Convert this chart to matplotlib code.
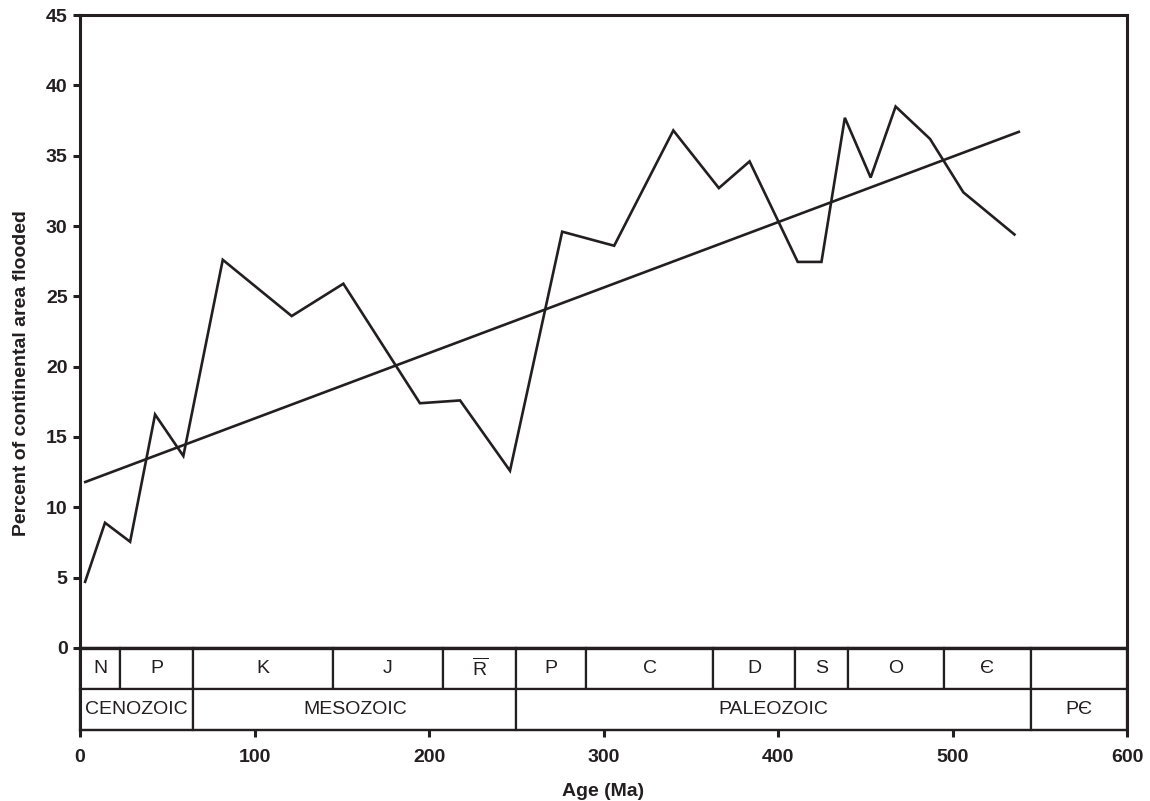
import matplotlib
matplotlib.use('Agg')
import matplotlib.pyplot as plt
import numpy as np

plt.rcParams['font.family'] = ['Liberation Sans', 'DejaVu Sans']
plt.rcParams['mathtext.fontset'] = 'custom'
plt.rcParams['mathtext.rm'] = 'Liberation Sans'

# curva de inundacion continental
age_ma = [2.9, 14.3, 28.7, 43, 59.2, 81.8, 121.3, 150.9, 194.8, 217.8, 246.4,
          276.3, 306.1, 340, 366.1, 383.7, 411.3, 424.9, 438.3, 453.1, 467.4,
          487.1, 506.2, 535.5]
pct_flooded = [4.7, 8.9, 7.55, 16.6, 13.65, 27.6, 23.6, 25.9, 17.4, 17.6, 12.6,
               29.6, 28.6, 36.8, 32.7, 34.6, 27.45, 27.45, 37.7, 33.45, 38.5,
               36.2, 32.4, 29.4]

# linea de tendencia (extremos leidos)
trend_age = [3, 538]
trend_pct = [11.8, 36.7]

# escala geologica
periods = ['N', 'P', 'K', 'J', r'$\overline{\mathrm{R}}$', 'P', 'C', 'D', 'S',
           'O', 'Є', '']
period_bounds = [0, 23, 65, 145, 208, 250, 290, 363, 410, 440, 495, 545, 600]
eras = ['CENOZOIC', 'MESOZOIC', 'PALEOZOIC', 'PЄ']
era_bounds = [0, 65, 250, 545, 600]

x_ticks = [0, 100, 200, 300, 400, 500, 600]
y_ticks = [0, 5, 10, 15, 20, 25, 30, 35, 40, 45]

ROW = 2.92
BOX_LW = 1.6
INK = '#231f20'

fig = plt.figure(figsize=(11.5, 8.01), dpi=100)
ax = fig.add_axes([0.0696, 0.0886, 0.9104, 0.8925])

ax.plot(age_ma, pct_flooded, color=INK, lw=1.9, solid_joinstyle='miter')
ax.plot(trend_age, trend_pct, color=INK, lw=1.9)

# cajas de periodos (fila superior)
p_left = np.array(period_bounds[:-1])
p_width = np.diff(period_bounds)
ax.bar(p_left, -ROW, width=p_width, bottom=0, align='edge',
       color='white', edgecolor=INK, linewidth=BOX_LW, clip_on=False)
# cajas de eras (fila inferior)
e_left = np.array(era_bounds[:-1])
e_width = np.diff(era_bounds)
ax.bar(e_left, -ROW, width=e_width, bottom=-ROW, align='edge',
       color='white', edgecolor=INK, linewidth=BOX_LW, clip_on=False)

for lab, l, w in zip(periods, p_left, p_width):
    ax.text(l + w / 2, -ROW / 2, lab, ha='center', va='center', fontsize=14,
            color=INK)

for lab, l, w in zip(eras, e_left, e_width):
    ax.text(l + w / 2, -1.5 * ROW, lab, ha='center', va='center', fontsize=14,
            color=INK)

ax.axhline(0, color=INK, lw=2.4)

ax.set_xlim(0, 600)
ax.set_ylim(-2 * ROW, 45)
ax.set_xticks(x_ticks)
ax.set_yticks(y_ticks)
ax.tick_params(axis='both', direction='out', length=5, width=2.2,
               color=INK, labelsize=14, labelcolor=INK)
ax.tick_params(axis='x', pad=9)
ax.tick_params(axis='y', pad=4)
for t in ax.get_xticklabels() + ax.get_yticklabels():
    t.set_fontweight('bold')

for s in ax.spines.values():
    s.set_color(INK)
    s.set_linewidth(2.2)
ax.spines['bottom'].set_linewidth(BOX_LW)

ax.set_xlabel('Age (Ma)', fontsize=14, fontweight='bold', color=INK,
              labelpad=12)
ax.set_ylabel('Percent of continental area flooded', fontsize=14,
              fontweight='bold', color=INK)
ax.yaxis.set_label_coords(-0.048, 0.5)

fig.savefig('out.png', dpi=100)
